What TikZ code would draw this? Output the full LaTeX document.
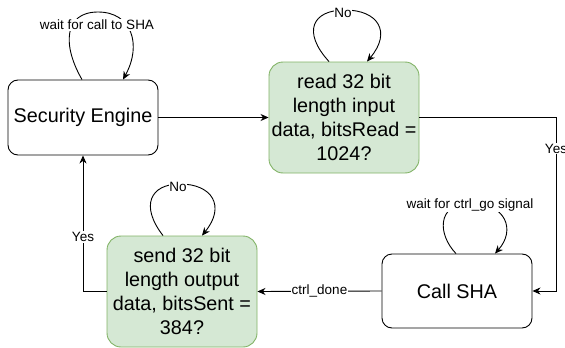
\documentclass[tikz,border=0pt]{standalone}
\usepackage{fontspec}
\setmainfont{Liberation Sans}
\usetikzlibrary{arrows.meta,calc}
\definecolor{gfill}{HTML}{D5E8D4}
\definecolor{gline}{HTML}{82B366}
\begin{document}
\begin{tikzpicture}[x=1pt,y=-1pt,
  state/.style={draw=black, line width=0.9pt, rounded corners=10pt,
    minimum width=150pt, minimum height=75pt, inner sep=0pt,
    font=\fontsize{19.8}{24}\selectfont, align=center},
  test/.style={state, draw=gline, fill=gfill, rounded corners=14pt, minimum height=111pt},
  edge/.style={draw, line width=0.9pt, -{Stealth[length=8pt,width=7pt,inset=2.5pt]}},
  lab/.style={fill=white, inner sep=1pt, font=\fontsize{13.5}{16}\selectfont}]
\useasboundingbox (0,0) rectangle (565,348);

% states
\node[state] (se) at (83,117.5) {Security Engine};
\node[test]  (rd) at (344,117.5) {read 32 bit\\length input\\data, bitsRead =\\1024?};
\node[state, minimum height=74pt] (cs) at (457,291) {Call SHA};
\node[test]  (sd) at (182,291.5) {send 32 bit\\length output\\data, bitsSent =\\384?};

% self loops
\coordinate (seTop) at (98,12);
\draw[edge] ([xshift=-1pt]se.north) .. controls (62,45) and (64,12) .. (seTop)
  .. controls (132,12) and (142,45) .. ([xshift=40pt]se.north);
\node[lab] at (97,25) {wait for call to SHA};

\coordinate (rdTop) at (345,10);
\draw[edge] ([xshift=-15pt]rd.north) .. controls (302,32) and (312,10) .. (rdTop)
  .. controls (378,10) and (392,32) .. ([xshift=23pt]rd.north);
\node[lab, inner sep=0.5pt] at (343,13) {No};

\coordinate (csTop) at (470,203);
\draw[edge] ([xshift=-1pt]cs.north) .. controls (438,235) and (436,204) .. (csTop)
  .. controls (506,203) and (516,230) .. ([xshift=38pt]cs.north);
\node[lab] at (470,205) {wait for ctrl\_go signal};

\coordinate (sdTop) at (180,184);
\draw[edge] ([xshift=-19pt]sd.north) .. controls (140,206) and (150,184) .. (sdTop)
  .. controls (212,184) and (226,206) .. ([xshift=20pt]sd.north);
\node[lab, inner sep=0.5pt] at (178,187) {No};

% transitions
\draw[edge] (se.east) -- (rd.west);
\coordinate (rx) at (556,0);
\draw[edge] (rd.east) -- (rd.east -| rx) -- node[lab, pos=0.18] {Yes} (cs.east -| rx) -- (cs.east);
\draw[edge] (cs.west) -- node[lab] {ctrl\_done} (sd.east);
\draw[edge] (sd.west) -- (sd.west -| se.south) -- node[lab, pos=0.4] {Yes} (se.south);
\end{tikzpicture}
\end{document}
